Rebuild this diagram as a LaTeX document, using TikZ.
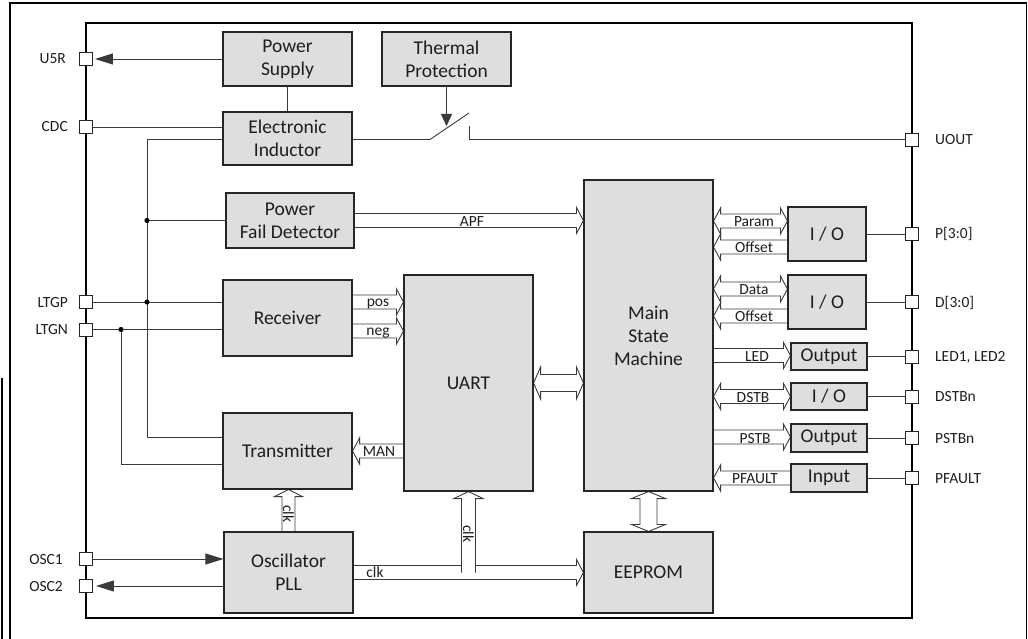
\documentclass[tikz,border=0pt]{standalone}
\usepackage{fontspec}
\setmainfont{Carlito}
\usetikzlibrary{arrows.meta,calc}
\pgfdeclarelayer{bg}
\pgfsetlayers{bg,main}
\definecolor{boxfill}{HTML}{DEDEDE}
\definecolor{txt}{HTML}{1E1E1E}
\definecolor{lncol}{HTML}{3A3A3A}
\def\ArSw{7pt}\def\ArHw{13pt}\def\ArHl{7pt}
% right-pointing hollow arrow: #1 tail, #2 tip
\newcommand\HArrR[2]{\draw[bigarrow] let \p1=#1,\p2=#2 in (\x1,\y1+\ArSw) -- (\x2-\ArHl,\y1+\ArSw) -- (\x2-\ArHl,\y1+\ArHw) -- (\x2,\y1) -- (\x2-\ArHl,\y1-\ArHw) -- (\x2-\ArHl,\y1-\ArSw) -- (\x1,\y1-\ArSw);}
% left-pointing hollow arrow: #1 tip (left), #2 tail (right)
\newcommand\HArrL[2]{\draw[bigarrow] let \p1=#1,\p2=#2 in (\x2,\y1+\ArSw) -- (\x1+\ArHl,\y1+\ArSw) -- (\x1+\ArHl,\y1+\ArHw) -- (\x1,\y1) -- (\x1+\ArHl,\y1-\ArHw) -- (\x1+\ArHl,\y1-\ArSw) -- (\x2,\y1-\ArSw);}
% double horizontal: #1 left tip, #2 right tip
\newcommand\HArrD[2]{\draw[bigarrow] let \p1=#1,\p2=#2 in (\x1,\y1) -- (\x1+\ArHl,\y1+\ArHw) -- (\x1+\ArHl,\y1+\ArSw) -- (\x2-\ArHl,\y1+\ArSw) -- (\x2-\ArHl,\y1+\ArHw) -- (\x2,\y1) -- (\x2-\ArHl,\y1-\ArHw) -- (\x2-\ArHl,\y1-\ArSw) -- (\x1+\ArHl,\y1-\ArSw) -- (\x1+\ArHl,\y1-\ArHw) -- cycle;}
% vertical up: #1 tail (bottom), #2 tip (top)
\newcommand\VArrU[2]{\draw[bigarrow] let \p1=#1,\p2=#2 in (\x1-\ArSw,\y1) -- (\x1-\ArSw,\y2-\ArHl) -- (\x1-\ArHw,\y2-\ArHl) -- (\x1,\y2) -- (\x1+\ArHw,\y2-\ArHl) -- (\x1+\ArSw,\y2-\ArHl) -- (\x1+\ArSw,\y1);}
% vertical double: #1 top tip, #2 bottom tip
\newcommand\VArrD[2]{\draw[bigarrow] let \p1=#1,\p2=#2 in (\x1,\y1) -- (\x1+\ArHw,\y1-\ArHl) -- (\x1+\ArSw,\y1-\ArHl) -- (\x1+\ArSw,\y2+\ArHl) -- (\x1+\ArHw,\y2+\ArHl) -- (\x1,\y2) -- (\x1-\ArHw,\y2+\ArHl) -- (\x1-\ArSw,\y2+\ArHl) -- (\x1-\ArSw,\y1-\ArHl) -- (\x1-\ArHw,\y1-\ArHl) -- cycle;}
\begin{document}
\begin{tikzpicture}[x=1pt,y=-1pt,
  blk/.style={draw=black!85,line width=1.1pt,fill=boxfill,inner sep=0pt,align=center,text=txt,font=\fontsize{19.5}{23}\selectfont},
  pinbox/.style={draw=black!85,line width=0.9pt,fill=white,minimum size=13pt,inner sep=0pt},
  ln/.style={draw=lncol,line width=0.9pt},
  bigarrow/.style={draw=lncol,line width=0.9pt,fill=white},
  lbl/.style={text=txt,font=\fontsize{15.5}{18}\selectfont,inner sep=0pt},
  frame/.style={draw=black,line width=1.6pt},
  chip/.style={draw=black,line width=1.1pt},
  tri/.style={-{Triangle[length=18pt,width=11pt]}},
  dotc/.style={fill=black}]
\useasboundingbox (0,0) rectangle (1028,639);
% outer frame
\draw[frame] (10,639) -- (10,3) -- (1026.5,3) -- (1026.5,639);
\draw[line width=1.4pt] (2,378) -- (2,639);
% blocks
\node[blk,minimum width=129pt,minimum height=54pt] (ps) at (287.5,59) {Power\\Supply};
\node[blk,minimum width=129pt,minimum height=53pt] (ei) at (287.5,138.5) {Electronic\\Inductor};
\node[blk,minimum width=129pt,minimum height=54pt] (tp) at (446.5,59) {Thermal\\Protection};
\node[blk,minimum width=128pt,minimum height=55pt] (pfd) at (290,220.5) {Power\\Fail Detector};
\node[blk,minimum width=129pt,minimum height=76pt] (rx) at (287.5,318) {Receiver};
\node[blk,minimum width=129pt,minimum height=76pt] (tx) at (287.5,451) {Transmitter};
\node[blk,minimum width=129pt,minimum height=81pt] (osc) at (288.5,572.5) {Oscillator\\PLL};
\node[blk,minimum width=129pt,minimum height=216pt] (uart) at (468.5,383) {UART};
\node[blk,minimum width=129pt,minimum height=311pt] (sm) at (648.5,335.5) {Main\\State\\Machine};
\node[blk,minimum width=129pt,minimum height=81pt] (eep) at (648.5,572.5) {EEPROM};
\node[blk,minimum width=78pt,minimum height=54pt] (io1) at (827,234) {I / O};
\node[blk,minimum width=78pt,minimum height=54pt] (io2) at (827,302) {I / O};
\node[blk,minimum width=76pt,minimum height=27pt] (out1) at (829,356.5) {Output};
\node[blk,minimum width=76pt,minimum height=27pt] (io3) at (829,396.5) {I / O};
\node[blk,minimum width=76pt,minimum height=28pt] (out2) at (829,438) {Output};
\node[blk,minimum width=76pt,minimum height=28pt] (inp) at (829,478) {Input};
% pins
\node[pinbox] (pU5R) at (86,59) {};
\node[pinbox] (pCDC) at (86,127) {};
\node[pinbox] (pLTGP) at (86,302) {};
\node[pinbox] (pLTGN) at (86,329.5) {};
\node[pinbox] (pOSC1) at (86,559) {};
\node[pinbox] (pOSC2) at (86,586) {};
\node[pinbox] (pUOUT) at (912,139.5) {};
\node[pinbox] (pP) at (912,234) {};
\node[pinbox] (pD) at (912,302) {};
\node[pinbox] (pLED) at (912,356.5) {};
\node[pinbox] (pDSTB) at (912,396.5) {};
\node[pinbox] (pPSTB) at (912,438) {};
\node[pinbox] (pPF) at (912,478) {};
% helper coordinates
\coordinate (busT) at (147,139.5);
\coordinate (busB) at (147,437);
\coordinate (nb) at (121,464);
\coordinate (swa) at (430,139.5);
\coordinate (swb) at (469,113);
\coordinate (swc) at (469,126);
\coordinate (swd) at (469,139.5);
\coordinate (cpos) at (380,302);
\coordinate (cneg) at (380,331);
\coordinate (cparam) at (750,221);
\coordinate (coff1) at (750,247);
\coordinate (cdata) at (750,289);
\coordinate (coff2) at (750,316);
\coordinate (cled) at (750,355.5);
\coordinate (cdstb) at (750,396.5);
\coordinate (cpstb) at (750,437);
\coordinate (cpf) at (750,478);
\begin{pgfonlayer}{bg}
\draw[chip] (86,23) rectangle (912,618);
% power
\draw[ln,tri,shorten >=2pt] (ps.west) -- (pU5R.east);
\draw[ln] (ps.south) -- (ei.north);
\draw[ln] (pCDC.east) -- (pCDC.east -| ei.west);
\draw[ln] (busT -| ei.west) -- (busT) -- (busB) -- (busB -| tx.west);
\draw[ln] (pfd.west) -- (pfd.west -| busT);
\draw[ln] (pLTGP.east) -- (pLTGP.east -| rx.west);
\draw[ln] (pLTGN.east) -- (pLTGN.east -| rx.west);
\draw[ln] (pLTGN -| nb) -- (nb) -- (nb -| tx.west);
\draw[ln,tri] (pOSC1.east) -- (pOSC1.east -| osc.west);
\draw[ln,tri,shorten >=3pt] (pOSC2 -| osc.west) -- (pOSC2.east);
% switch
\draw[ln] (swa -| ei.east) -- (swa) -- (swb);
\draw[ln] (swc) -- (swd) -- (pUOUT.west);
\draw[ln,-{Triangle[length=12pt,width=11pt]}] (tp.south) -- (tp.south |- swc);
% right pins
\draw[ln] (io1.east) -- (pP.west);
\draw[ln] (io2.east) -- (pD.west);
\draw[ln] (out1.east) -- (pLED.west);
\draw[ln] (io3.east) -- (pDSTB.west);
\draw[ln] (out2.east) -- (pPSTB.west);
\draw[ln] (inp.east) -- (pPF.west);
% hollow bus arrows
\HArrR{(pfd.east)}{(pfd.east -| sm.west)}
\HArrR{(cpos -| rx.east)}{(cpos -| uart.west)}
\HArrR{(cneg -| rx.east)}{(cneg -| uart.west)}
\HArrL{(tx.east)}{(tx.east -| uart.west)}
{\def\ArSw{8.5pt}\def\ArHw{16pt}\HArrD{(uart.east)}{(uart.east -| sm.west)}}
{\def\ArSw{8.5pt}\def\ArHw{17pt}\VArrD{(sm.south)}{(eep.north)}}
{\def\ArSw{6.5pt}\def\ArHw{14pt}\VArrU{(osc.north)}{(tx.south)}}
\HArrR{(osc.east)}{(osc.east -| eep.west)}
{\def\ArHw{14.5pt}\VArrU{(uart.south |- osc.east)}{(uart.south)}}
\HArrD{(cparam -| sm.east)}{(cparam -| io1.west)}
\HArrL{(coff1 -| sm.east)}{(coff1 -| io1.west)}
\HArrD{(cdata -| sm.east)}{(cdata -| io2.west)}
\HArrL{(coff2 -| sm.east)}{(coff2 -| io2.west)}
\HArrR{(cled -| sm.east)}{(cled -| out1.west)}
\HArrD{(cdstb -| sm.east)}{(cdstb -| io3.west)}
\HArrR{(cpstb -| sm.east)}{(cpstb -| out2.west)}
\HArrL{(cpf -| sm.east)}{(cpf -| inp.west)}
\end{pgfonlayer}
% junction dots
\fill[dotc] (pfd.west -| busT) circle[radius=2.6pt];
\fill[dotc] (pLTGP -| busT) circle[radius=2.6pt];
\fill[dotc] (pLTGN -| nb) circle[radius=2.6pt];
% pin labels
\node[lbl,anchor=base east] (lU5R) at (66,64) {U5R};
\node[lbl,anchor=base east] (lCDC) at (68,132) {CDC};
\node[lbl,anchor=base east] (lLTGP) at (68,307) {LTGP};
\node[lbl,anchor=base east] (lLTGN) at (68,334.5) {LTGN};
\node[lbl,anchor=base east] (lOSC1) at (63,564) {OSC1};
\node[lbl,anchor=base east] (lOSC2) at (63,591) {OSC2};
\node[lbl,anchor=base west] (lUOUT) at (935,144.5) {UOUT};
\node[lbl,anchor=base west] (lP) at (935,239) {P[3:0]};
\node[lbl,anchor=base west] (lD) at (935,307) {D[3:0]};
\node[lbl,anchor=base west] (lLED) at (935,361.5) {LED1, LED2};
\node[lbl,anchor=base west] (lDSTB) at (935,401.5) {DSTBn};
\node[lbl,anchor=base west] (lPSTB) at (935,443) {PSTBn};
\node[lbl,anchor=base west] (lPF) at (935,483) {PFAULT};
% arrow labels
\node[lbl,anchor=base] (tAPF) at (472,226.5) {APF};
\node[lbl,anchor=base] (tpos) at (378,306) {pos};
\node[lbl,anchor=base] (tneg) at (378,335) {neg};
\node[lbl,anchor=base] (tMAN) at (379,456) {MAN};
\node[lbl,anchor=base] (tclk) at (375,577.5) {clk};
\node[lbl,rotate=-90] (tclk1) at (288.5,514) {clk};
\node[lbl,rotate=-90] (tclk2) at (468.5,534) {clk};
\node[lbl,anchor=base] (tParam) at (754,226.5) {Param};
\node[lbl,anchor=base] (tOff1) at (754,252.5) {Offset};
\node[lbl,anchor=base] (tData) at (754,294.5) {Data};
\node[lbl,anchor=base] (tOff2) at (754,321.5) {Offset};
\node[lbl,anchor=base] (tLED) at (757,361.5) {LED};
\node[lbl,anchor=base] (tDSTB) at (753,402) {DSTB};
\node[lbl,anchor=base] (tPSTB) at (755,443) {PSTB};
\node[lbl,anchor=base] (tPF) at (755,483.5) {PFAULT};
\end{tikzpicture}
\end{document}
